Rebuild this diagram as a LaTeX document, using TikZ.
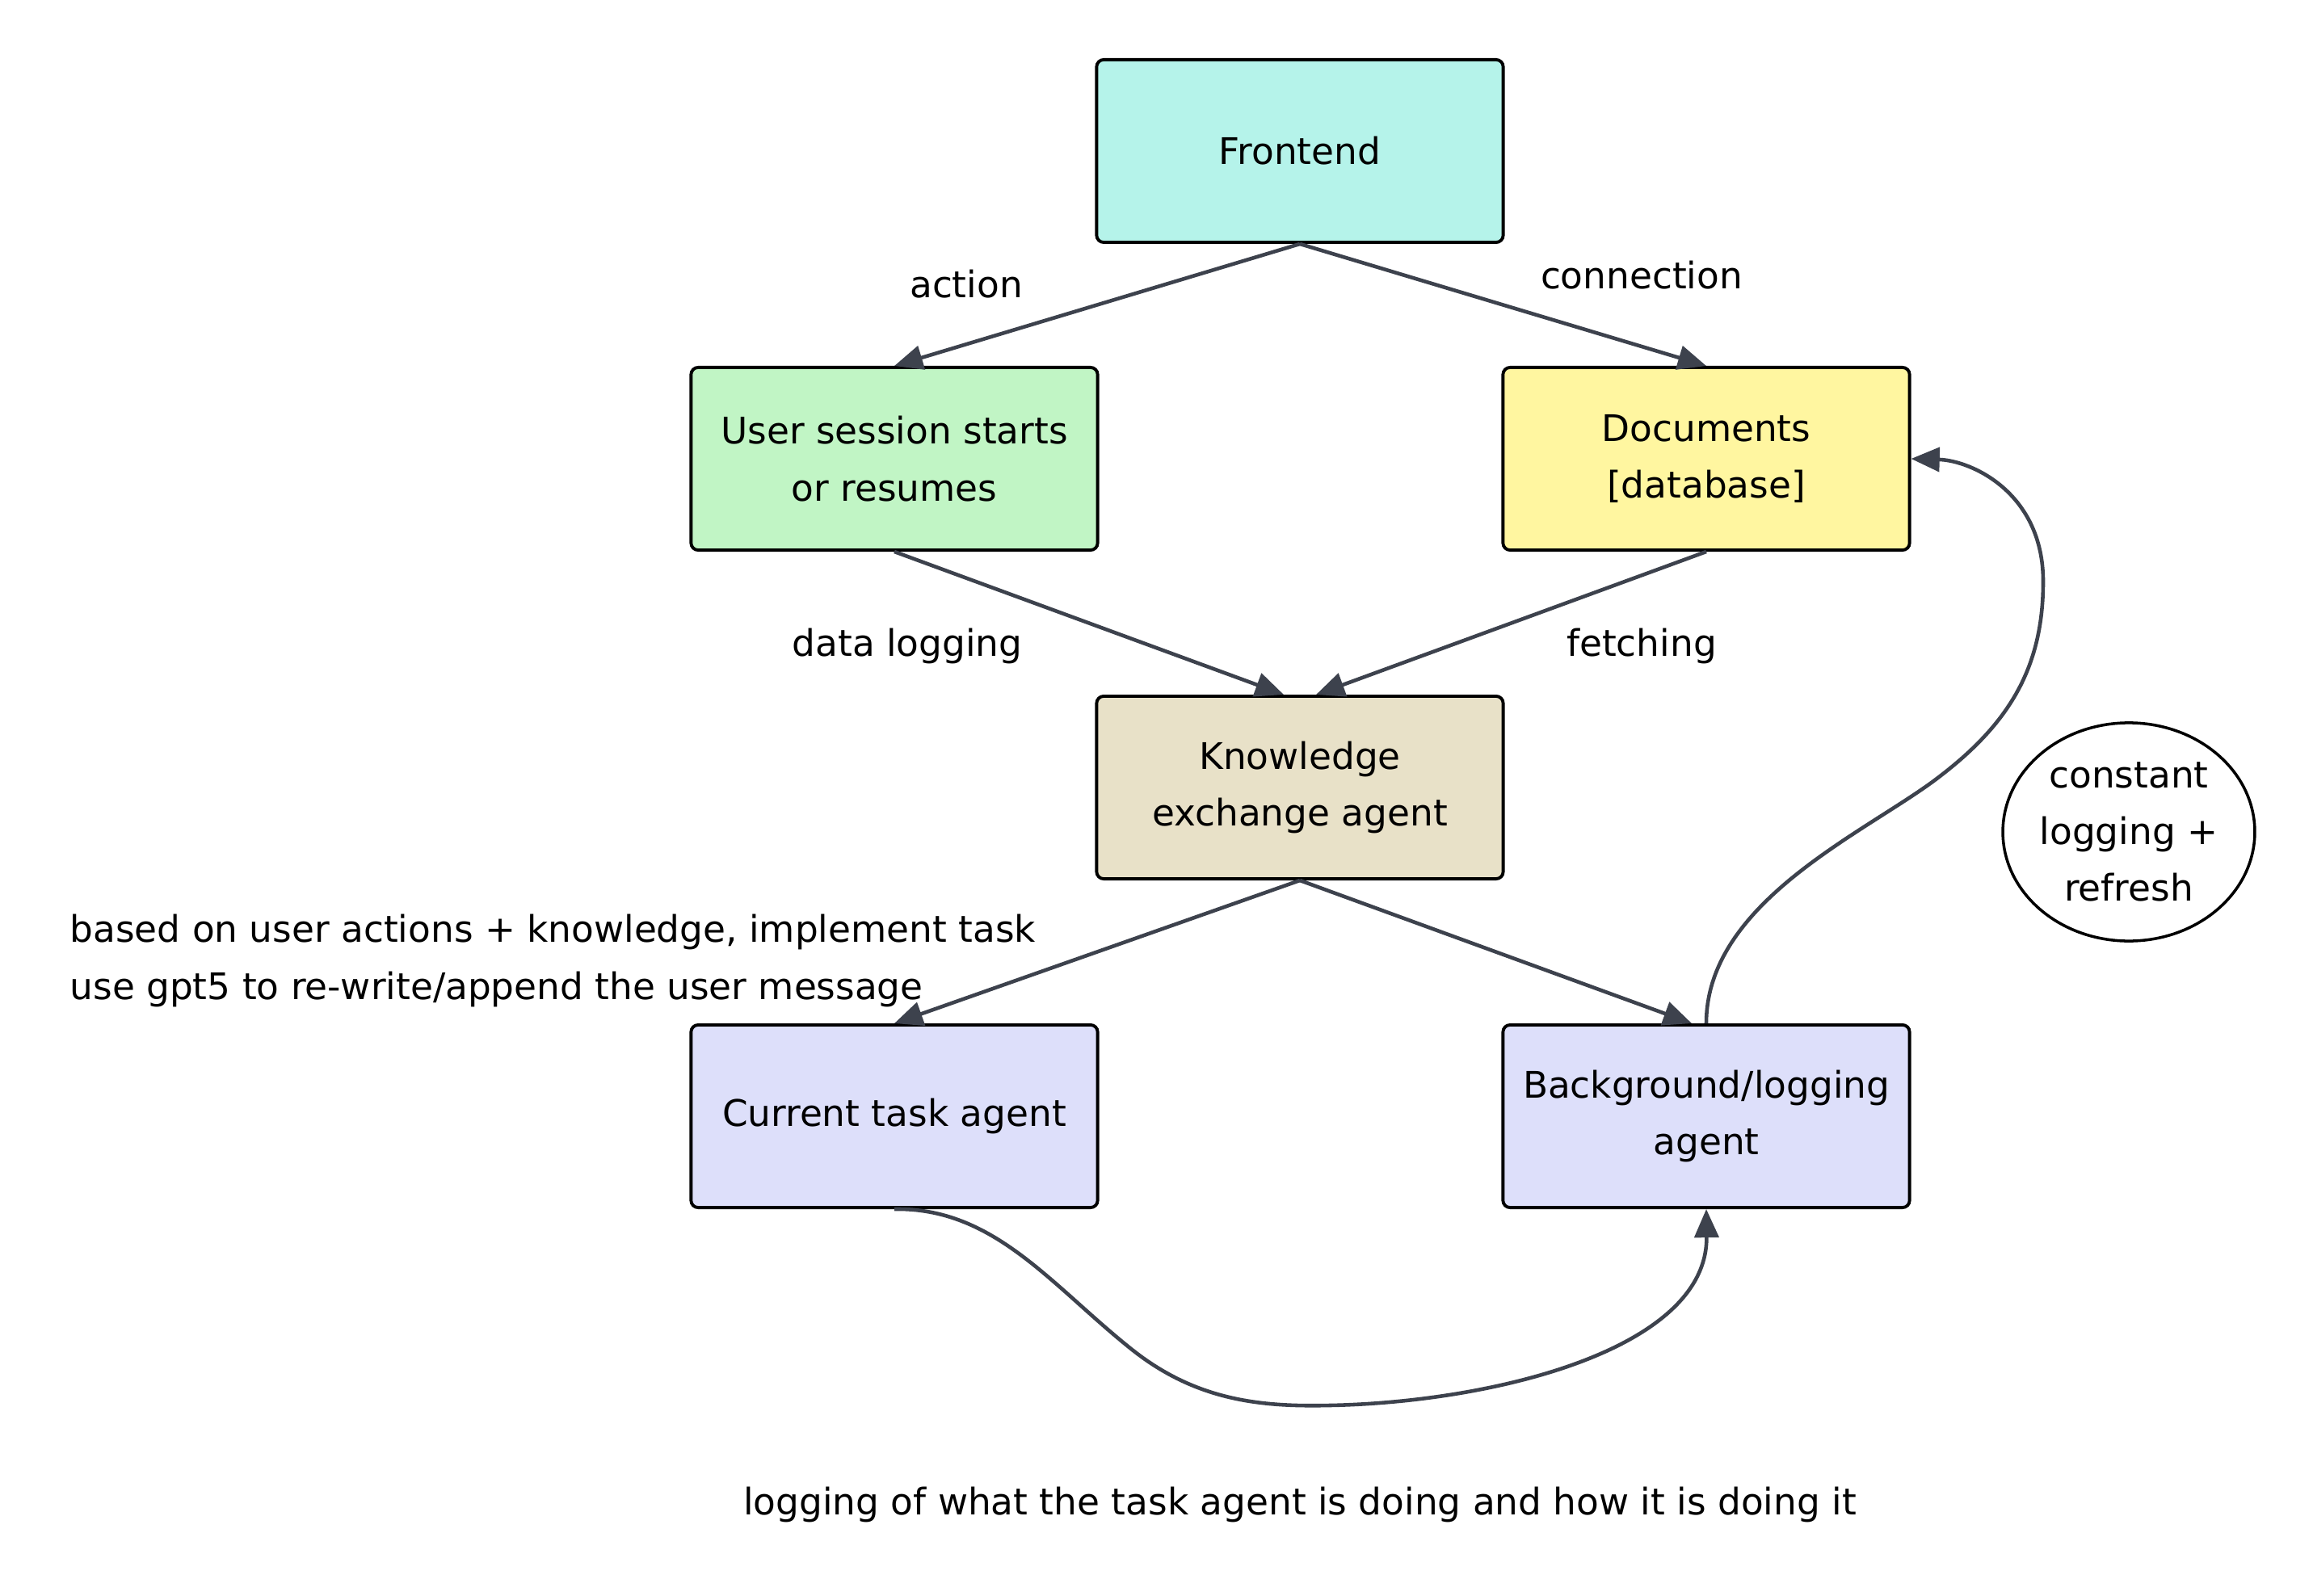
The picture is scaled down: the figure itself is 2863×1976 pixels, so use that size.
\documentclass[tikz,border=0pt]{standalone}
\usepackage{fontspec}
\setmainfont{DejaVu Sans}
\usetikzlibrary{arrows.meta,shapes.geometric}
\definecolor{edgec}{HTML}{3D424D}
\definecolor{fcyan}{HTML}{B5F3EA}
\definecolor{fgreen}{HTML}{C1F5C5}
\definecolor{fyellow}{HTML}{FFF6A0}
\definecolor{fbeige}{HTML}{E8E1C8}
\definecolor{flav}{HTML}{DDDFFA}
\tikzset{
  txt/.style={font=\fontsize{12.9}{20}\selectfont, text=black},
  box/.style={txt, draw=black, line width=1.1pt, rounded corners=2.5pt,
    minimum width=5.03cm, minimum height=2.26cm, align=center, inner sep=0pt},
  conn/.style={draw=edgec, line width=1.3pt, -{Triangle[length=10pt,width=8.5pt]}},
  lbl/.style={txt, inner sep=0pt}
}
\begin{document}
\begin{tikzpicture}[x=0.01cm,y=-0.01cm]
\useasboundingbox[fill=white] (0,0) rectangle (2863,1976);
\node[box, fill=fcyan]   (fe)  at (1609,187)  {Frontend};
\node[box, fill=fgreen]  (us)  at (1107,568)  {User session starts\\or resumes};
\node[box, fill=fyellow] (doc) at (2112,568)  {Documents\\{[database]}};
\node[box, fill=fbeige]  (ke)  at (1609,975)  {Knowledge\\exchange agent};
\node[box, fill=flav]    (cta) at (1107,1382) {Current task agent};
\node[box, fill=flav]    (bg)  at (2112,1382) {Background/logging\\agent};
\node[ellipse, draw=black, line width=1pt, minimum width=3.1cm, minimum height=2.7cm,
      align=center, txt, inner sep=0pt] (cl) at (2635,1030) {constant\\logging +\\refresh};

\draw[conn] (fe.south) -- (us.north);
\draw[conn] (fe.south) -- (doc.north);
\draw[conn] (us.south) -- ([xshift=-0.2cm]ke.north);
\draw[conn] (doc.south) -- ([xshift=0.2cm]ke.north);
\draw[conn] (ke.south) -- (cta.north);
\draw[conn] (ke.south) -- ([xshift=-0.18cm]bg.north);
\draw[conn] (bg.north) .. controls (2112,1120) and (2300,1035) .. (2392,968)
  .. controls (2484,900) and (2529,830) .. (2529,720)
  .. controls (2529,610) and (2440,570) .. (doc.east);
\draw[conn] (cta.south) .. controls (1230,1495) and (1300,1590) .. (1400,1670)
  .. controls (1480,1734) and (1560,1742) .. (1646,1740)
  .. controls (1850,1736) and (2114,1670) .. (bg.south);

\node[lbl] (l1) at (1196,352) {action};
\node[lbl] (l2) at (2032,341) {connection};
\node[lbl] (l3) at (1123,800) {data logging};
\node[lbl] (l4) at (2032,800) {fetching};
\node[lbl, anchor=west] (l5) at (86,1154) {based on user actions + knowledge, implement task};
\node[lbl, anchor=west] (l6) at (86,1225) {use gpt5 to re-write/append the user message};
\node[lbl] (l7) at (1609,1863) {logging of what the task agent is doing and how it is doing it};
\end{tikzpicture}
\end{document}
